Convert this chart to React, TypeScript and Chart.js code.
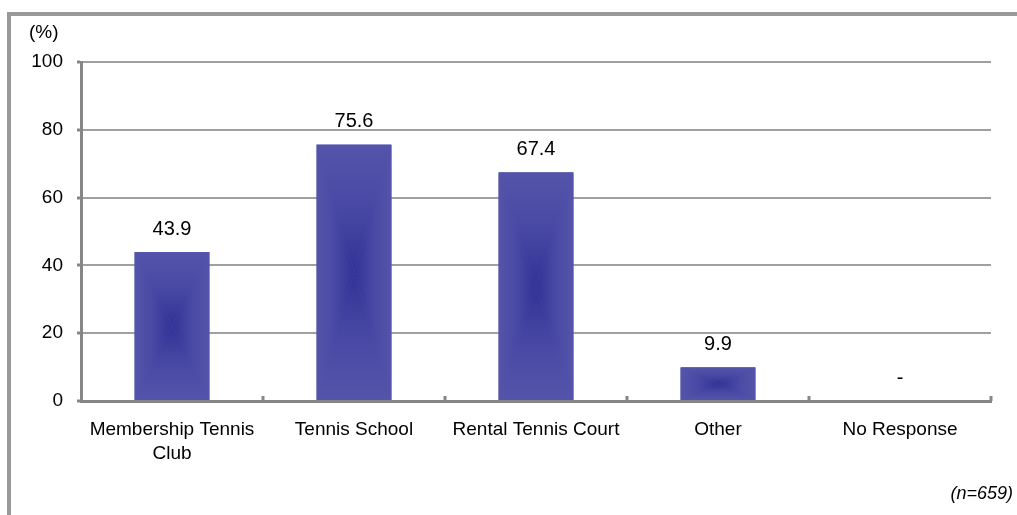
import React, { useEffect, useRef } from 'react';
import { Chart, registerables } from 'chart.js';

Chart.register(...registerables);

const categories: (string | string[])[] = [
  ['Membership Tennis', 'Club'],
  'Tennis School',
  'Rental Tennis Court',
  'Other',
  'No Response',
];
const values = [43.9, 75.6, 67.4, 9.9, 0];
const yTicks = [0, 20, 40, 60, 80, 100];
const unitLabel = '(%)';
const sampleNote = '(n=659)';

const FONT = '"Liberation Sans", Arial, sans-serif';
const AXIS_COLOR = '#868686';
const GRID_COLOR = '#a0a0a0';
const EDGE = 'rgb(84,84,170)';
const CENTER = 'rgb(50,50,152)';

const decor = {
  id: 'decor',
  afterDatasetsDraw(chart: any) {
    const ctx = chart.ctx as CanvasRenderingContext2D;
    const meta = chart.getDatasetMeta(0);
    meta.data.forEach((bar: any) => {
      const { x, y, base, width } = bar.getProps(['x', 'y', 'base', 'width'], true);
      const l = x - width / 2;
      const r = x + width / 2;
      const t = Math.min(y, base);
      const b = Math.max(y, base);
      if (b - t < 0.5) return;
      const cx = x;
      const cy = (t + b) / 2;
      ctx.save();
      ctx.fillStyle = EDGE;
      ctx.fillRect(l, t, r - l, b - t);
      const tri = (pts: number[][], g: CanvasGradient) => {
        ctx.beginPath();
        ctx.moveTo(pts[0][0], pts[0][1]);
        for (let k = 1; k < pts.length; k++) ctx.lineTo(pts[k][0], pts[k][1]);
        ctx.closePath();
        ctx.fillStyle = g;
        ctx.fill();
      };
      const mk = (x0: number, y0: number, x1: number, y1: number) => {
        const g = ctx.createLinearGradient(x0, y0, x1, y1);
        g.addColorStop(0, EDGE);
        g.addColorStop(0.45, 'rgb(74,74,165)');
        g.addColorStop(1, CENTER);
        return g;
      };
      tri([[l, t], [r, t], [cx, cy]], mk(0, t, 0, cy));
      tri([[l, b], [r, b], [cx, cy]], mk(0, b, 0, cy));
      tri([[l, t], [l, b], [cx, cy]], mk(l, 0, cx, 0));
      tri([[r, t], [r, b], [cx, cy]], mk(r, 0, cx, 0));
      ctx.restore();
    });

    // data labels
    ctx.save();
    ctx.fillStyle = '#000';
    ctx.font = `20px ${FONT}`;
    ctx.textAlign = 'center';
    ctx.textBaseline = 'middle';
    meta.data.forEach((bar: any, i: number) => {
      const { x, y } = bar.getProps(['x', 'y'], true);
      const v = values[i];
      const txt = v === 0 ? '-' : v.toFixed(1);
      ctx.fillText(txt, x, y - 23);
    });
    ctx.restore();
  },
  afterDraw(chart: any) {
    const ctx = chart.ctx as CanvasRenderingContext2D;
    const xs = chart.scales.x;
    const area = chart.chartArea;
    ctx.save();
    // inner ticks on x axis at category boundaries
    ctx.strokeStyle = AXIS_COLOR;
    ctx.lineWidth = 3;
    for (let i = 0; i < categories.length; i++) {
      const px = Math.round(xs.getPixelForValue(i + 0.5));
      ctx.beginPath();
      ctx.moveTo(px, area.bottom);
      ctx.lineTo(px, area.bottom - 5);
      ctx.stroke();
    }
    // unit label
    ctx.fillStyle = '#000';
    ctx.font = `19px ${FONT}`;
    ctx.textAlign = 'left';
    ctx.textBaseline = 'middle';
    ctx.fillText(unitLabel, 29, 33);
    // sample note
    ctx.font = `italic 18px ${FONT}`;
    ctx.textAlign = 'right';
    ctx.fillText(sampleNote, 1013, 494);
    ctx.restore();
  },
};

export default function App() {
  const ref = useRef<HTMLCanvasElement>(null);
  useEffect(() => {
    if (!ref.current) return;
    const chart = new Chart(ref.current, {
      type: 'bar',
      data: {
        labels: categories,
        datasets: [
          {
            data: values,
            backgroundColor: EDGE,
            borderWidth: 0,
            categoryPercentage: 1,
            barPercentage: 0.41,
          },
        ],
      },
      options: {
        responsive: false,
        maintainAspectRatio: false,
        animation: false,
        layout: { padding: { left: 0, right: 26, top: 62, bottom: 34 } },
        plugins: { legend: { display: false }, tooltip: { enabled: false } },
        scales: {
          x: {
            offset: true,
            grid: { display: false, drawTicks: false },
            border: { display: true, color: AXIS_COLOR, width: 3 },
            ticks: {
              color: '#000',
              font: { family: FONT, size: 19, lineHeight: 1.3 },
              padding: 16,
              maxRotation: 0,
              autoSkip: false,
            },
            afterFit(scale: any) {
              scale.height = 80;
            },
          },
          y: {
            min: yTicks[0],
            max: yTicks[yTicks.length - 1],
            grid: {
              color: GRID_COLOR,
              lineWidth: 2,
              drawTicks: true,
              tickLength: 4,
              tickColor: AXIS_COLOR,
              tickWidth: 3,
            },
            border: { display: true, color: AXIS_COLOR, width: 3 },
            ticks: {
              stepSize: yTicks[1] - yTicks[0],
              color: '#000',
              font: { family: FONT, size: 19 },
              padding: 14,
            },
            afterFit(scale: any) {
              scale.width = 81;
            },
          },
        },
      },
      plugins: [decor],
    });
    return () => chart.destroy();
  }, []);

  return (
    <div
      style={{
        position: 'fixed',
        left: 0,
        top: 0,
        width: 1017,
        height: 515,
        overflow: 'hidden',
        background: '#fff',
      }}
    >
      <div
        style={{
          position: 'absolute',
          left: 7,
          top: 12,
          width: 2000,
          height: 2000,
          borderLeft: '4px solid #999',
          borderTop: '4px solid #999',
        }}
      />
      <canvas
        ref={ref}
        width={1017}
        height={515}
        style={{ position: 'absolute', left: 0, top: 0, display: 'block' }}
      />
    </div>
  );
}
